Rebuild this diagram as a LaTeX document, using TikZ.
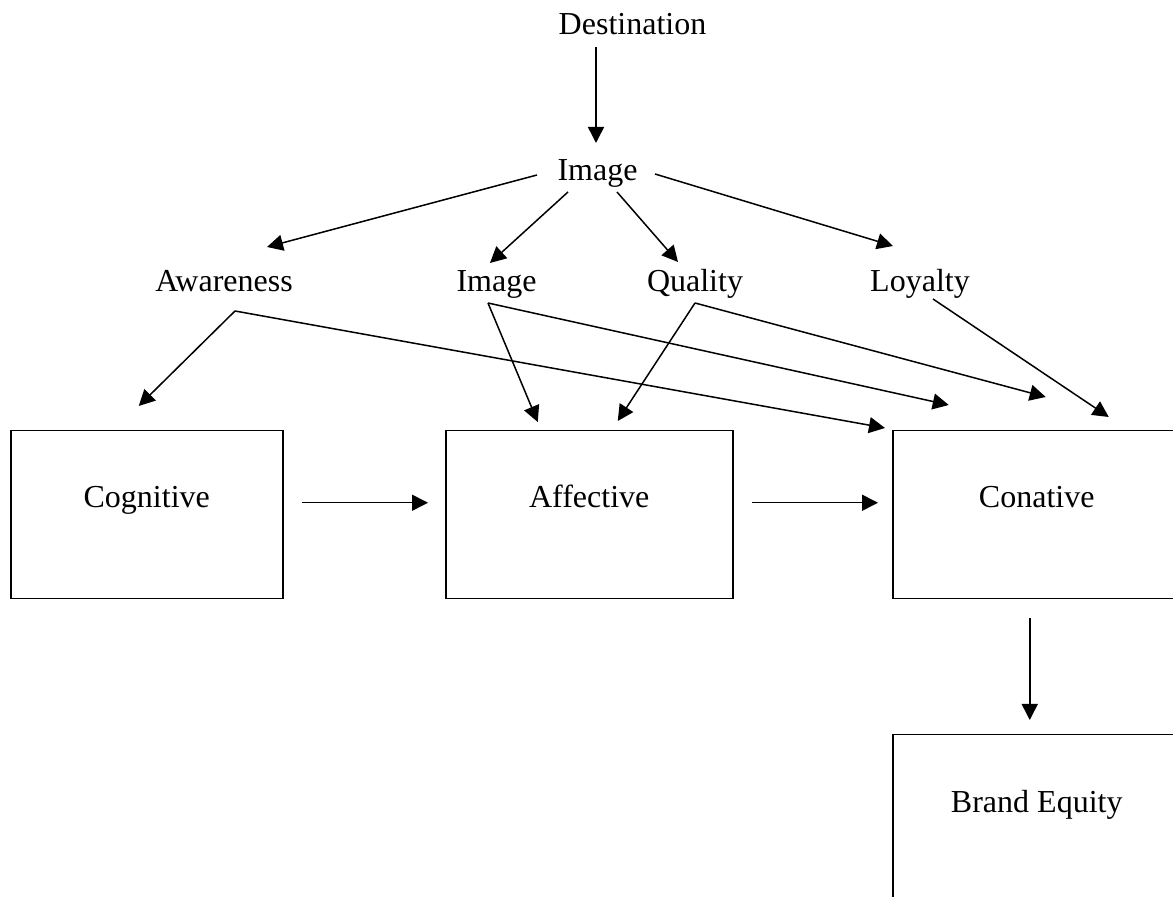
\documentclass[tikz,border=0pt]{standalone}
\usepackage{fontspec}
\setmainfont{Liberation Serif}
\usetikzlibrary{arrows.meta}

\tikzset{
  lbl/.style={inner sep=0pt, anchor=base, font=\fontsize{16}{19}\selectfont},
  stagebox/.style={draw, line width=0.75pt, inner sep=0pt, anchor=north west,
    text height=38.5pt, text depth=45.5pt, font=\fontsize{16}{19}\selectfont},
  arr/.style={line width=0.75pt, -{Triangle[length=8pt,width=8pt]}}
}

\begin{document}
\begin{tikzpicture}[x=0.5pt,y=-0.5pt]
  \useasboundingbox (0,0) rectangle (1173,897);
  \clip (0,0) rectangle (1173,897);

  % labels
  \node[lbl] (dest) at (632.5,35) {Destination};
  \node[lbl] (img) at (597.5,181) {Image};
  \node[lbl] (aware) at (224,292) {Awareness};
  \node[lbl] (img2) at (496.5,292) {Image};
  \node[lbl] (qual) at (695,292) {Quality};
  \node[lbl] (loyal) at (920,292) {Loyalty};

  % boxes
  \node[stagebox, minimum width=136pt] (cog) at (10,430) {Cognitive};
  \node[stagebox, minimum width=143.5pt] (aff) at (445,430) {Affective};
  \node[stagebox, minimum width=144pt] (con) at (892,430) {Conative};
  \node[stagebox, minimum width=144pt, text height=39pt] (brand) at (892,734) {Brand Equity};

  % top arrows
  \draw[arr] ([shift={(-36.5,12)}]dest.base) -- ([shift={(-1.5,-38)}]img.base);
  \draw[arr] ([shift={(-60.5,-6)}]img.base) -- ([shift={(43,-45)}]aware.base);
  \draw[arr] ([shift={(-29.5,11)}]img.base) -- ([shift={(-6.5,-29)}]img2.base);
  \draw[arr] ([shift={(19.5,11)}]img.base) -- ([shift={(-17,-30)}]qual.base);
  \draw[arr] ([shift={(57.5,-7)}]img.base) -- ([shift={(-27,-46)}]loyal.base);

  % dimensions to stages
  \draw[arr] ([shift={(11,19)}]aware.base) -- ([shift={(-8,-24)}]cog.north);
  \draw[arr] ([shift={(11,19)}]aware.base) -- ([shift={(-7,-2)}]con.north west);
  \draw[arr] ([shift={(-8.5,11)}]img2.base) -- ([shift={(-51.5,-8)}]aff.north);
  \draw[arr] ([shift={(-8.5,11)}]img2.base) -- ([shift={(-88,-25)}]con.north);
  \draw[arr] ([shift={(0,11)}]qual.base) -- ([shift={(28.5,-9)}]aff.north);
  \draw[arr] ([shift={(0,11)}]qual.base) -- ([shift={(9,-33)}]con.north);
  \draw[arr] ([shift={(13,7)}]loyal.base) -- ([shift={(72,-13)}]con.north);

  % stage chain
  \draw[arr] ([shift={(18,-12)}]cog.east) -- ([shift={(-17,-12)}]aff.west);
  \draw[arr] ([shift={(18,-12)}]aff.east) -- ([shift={(-14,-12)}]con.west);
  \draw[arr] ([shift={(-7,19)}]con.south) -- ([shift={(-7,-14)}]brand.north);
\end{tikzpicture}
\end{document}
